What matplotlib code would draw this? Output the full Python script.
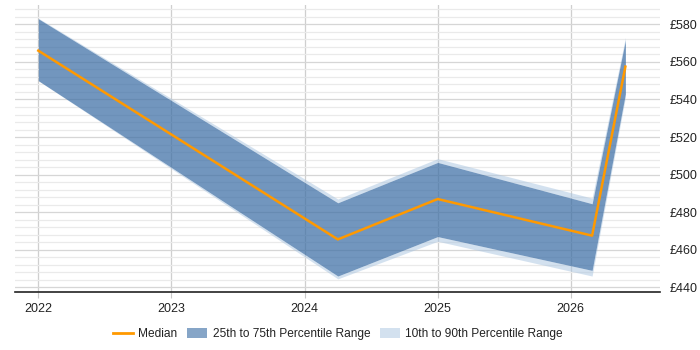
import matplotlib
matplotlib.use("Agg")
import matplotlib.pyplot as plt
from matplotlib.ticker import MultipleLocator, FixedLocator
from matplotlib.lines import Line2D
from matplotlib.patches import Patch

plt.rcParams['font.family'] = ['Liberation Sans', 'DejaVu Sans']

# data (decimal years)
x = [2022.0, 2024.25, 2025.0, 2026.16, 2026.41]
median = [566.0, 465.5, 487.0, 467.5, 557.5]
p25 = [550.0, 446.0, 467.0, 449.0, 543.0]
p75 = [583.0, 485.0, 506.5, 484.5, 571.5]
p10 = [550.0, 444.5, 464.5, 446.0, 541.0]
p90 = [583.3, 487.0, 508.5, 487.5, 573.0]
year_ticks = [2022, 2023, 2024, 2025, 2026]
year_labels = ["2022", "2023", "2024", "2025", "2026"]

fig = plt.figure(figsize=(7, 3.5), dpi=100)
ax = fig.add_axes([15/700, 1-292/350, (660-15)/700, (292-5)/350])

light = '#a8c4e0'
dark = '#3c6ea5'
ax.fill_between(x, p10, p25, color=light, alpha=0.5, lw=0, zorder=2)
ax.fill_between(x, p75, p90, color=light, alpha=0.5, lw=0, zorder=2)
ax.fill_between(x, p25, p75, color=dark, alpha=0.72, lw=0, zorder=3)
ax.plot(x, median, color='#ff9900', lw=1.8, zorder=4)

ax.set_xlim(2021.825, 2026.67)
ax.set_ylim(437.5, 590.3)

ax.xaxis.set_major_locator(FixedLocator(year_ticks))
ax.set_xticklabels(year_labels)
ax.yaxis.set_major_locator(MultipleLocator(20))
ax.yaxis.set_minor_locator(MultipleLocator(4))
ax.yaxis.set_major_formatter(lambda v, p: f"£{v:.0f}")
ax.yaxis.tick_right()

ax.grid(axis='y', which='major', color='#d6d6d6', lw=0.9, zorder=0)
ax.grid(axis='y', which='minor', color='#eaeaea', lw=0.9, zorder=0)
ax.grid(axis='x', which='major', color='#cfcfcf', lw=0.9, zorder=0)
ax.set_axisbelow(True)

for s in ['top', 'left', 'right']:
    ax.spines[s].set_visible(False)
ax.spines['bottom'].set_color('#222222')
ax.spines['bottom'].set_linewidth(1.2)

ax.tick_params(axis='y', which='both', length=0, pad=7, labelsize=9, labelcolor='#222222')
ax.tick_params(axis='x', length=4, color='#c8c8c8', pad=4, labelsize=9, labelcolor='#222222')

handles = [
    Line2D([0], [0], color='#ff9900', lw=2),
    Patch(facecolor=dark, alpha=0.62, lw=0),
    Patch(facecolor=light, alpha=0.5, lw=0),
]
labels = ["Median", "25th to 75th Percentile Range", "10th to 90th Percentile Range"]
fig.legend(handles, labels, loc='center', bbox_to_anchor=(0.483, 1-334/350), ncol=3,
           frameon=False, fontsize=8.6, handlelength=1.65, handleheight=1.0,
           handletextpad=0.45, columnspacing=0.85, labelcolor='#222222')

fig.savefig("out.png", dpi=100)
